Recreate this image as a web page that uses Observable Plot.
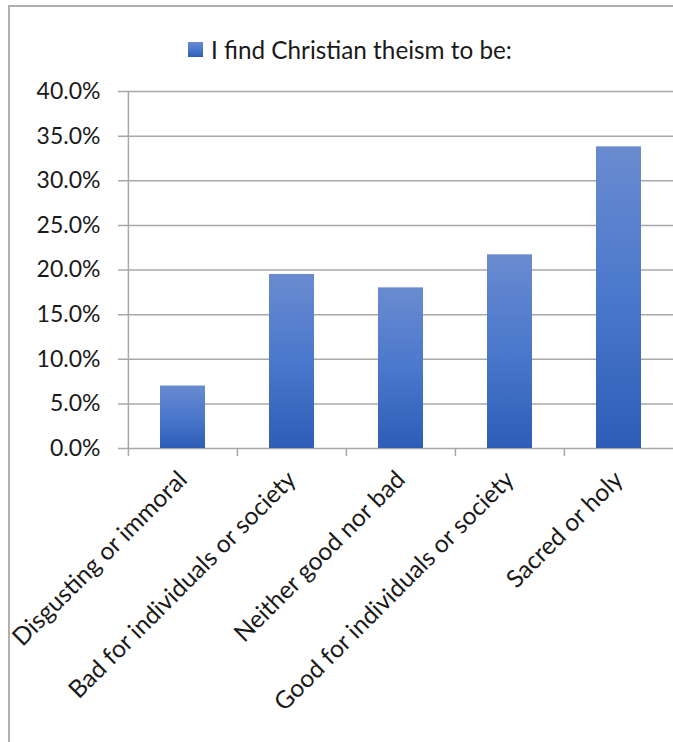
<!DOCTYPE html>
<html>
<head>
<meta charset="utf-8">
<script src="https://cdn.jsdelivr.net/npm/d3@7"></script>
<script src="https://cdn.jsdelivr.net/npm/@observablehq/plot@0.6"></script>
<style>
  html, body { margin: 0; padding: 0; background: #fff; }
  body { width: 673px; height: 742px; position: relative; overflow: hidden; font-family: Lato, "Open Sans", sans-serif; }
  #frame { position: absolute; left: 8px; top: 5px; width: 900px; height: 900px;
           border-left: 2px solid #b0b0b0; border-top: 2px solid #b0b0b0; z-index: 2; pointer-events: none; }
  #legend { position: absolute; left: 188px; top: 35px; display: flex; align-items: center;
            font-size: 24.3px; color: #1a1a1a; white-space: nowrap; }
  #legend .swatch { width: 15px; height: 15px; background: linear-gradient(#6a8bd0, #4a78cc, #2d5db7); margin-right: 8px; }
  #chart { position: absolute; left: 0; top: 70px; }
</style>
</head>
<body>
<div id="frame"></div>
<div id="legend"><span class="swatch"></span><span id="legend-label"></span></div>
<div id="chart"></div>
<script>
// Survey responses: share of respondents choosing each view
const seriesName = "I find Christian theism to be:";
const categories = [
  "Disgusting or immoral",
  "Bad for individuals or society",
  "Neither good nor bad",
  "Good for individuals or society",
  "Sacred or holy"
];
const shares = [0.070, 0.195, 0.180, 0.217, 0.338];
const yTicks = [0, 0.05, 0.10, 0.15, 0.20, 0.25, 0.30, 0.35, 0.40];

document.getElementById("legend-label").textContent = seriesName;

const data = categories.map((category, i) => ({category, share: shares[i]}));

const W = 673, H = 672, mL = 127, mR = 0, mT = 21, mB = 294;
const step = (W - mL - mR) / categories.length;
const gridColor = "#a8a8a8";

// Vertical gradient shared by every bar (light at top, deep blue at bottom)
const barGradient = () => {
  const defs = d3.create("svg:defs");
  const g = defs.append("linearGradient")
    .attr("id", "bar-fill").attr("x1", 0).attr("y1", 0).attr("x2", 0).attr("y2", 1);
  g.append("stop").attr("offset", "0%").attr("stop-color", "#6a8bd0");
  g.append("stop").attr("offset", "50%").attr("stop-color", "#4a78cc");
  g.append("stop").attr("offset", "100%").attr("stop-color", "#2d5db7");
  return defs.node();
};

const chart = Plot.plot({
  width: W,
  height: H,
  marginLeft: mL,
  marginRight: mR,
  marginTop: mT,
  marginBottom: mB,
  style: {fontFamily: "Lato, 'Open Sans', sans-serif", fontSize: "23px", color: "#1a1a1a", background: "transparent", overflow: "visible"},
  x: {domain: categories, paddingInner: 0.59, paddingOuter: 0.295, label: null},
  y: {domain: [0, 0.4], label: null},
  marks: [
    barGradient,
    // horizontal gridlines, extended left to form the axis tick marks
    Plot.ruleY(yTicks, {stroke: gridColor, strokeWidth: 1.5, insetLeft: -9}),
    Plot.barY(data, {x: "category", y: "share", fill: "url(#bar-fill)"}),
    // vertical axis line
    Plot.ruleX([categories[0]], {x: d => d, dx: -step / 2, y1: 0, y2: 0.4, stroke: gridColor, strokeWidth: 1.5}),
    // category divider ticks below the baseline
    Plot.ruleX(categories, {x: d => d, dx: -step / 2, y1: 0, y2: 0, insetBottom: -8, stroke: gridColor, strokeWidth: 1.5}),
    Plot.axisY(yTicks, {tickFormat: d3.format(".1%"), tickSize: 0, tickPadding: 27, fontSize: 23}),
    Plot.axisX({tickSize: 0, tickRotate: -45, tickPadding: 27, fontSize: 24.5})
  ]
});

document.getElementById("chart").appendChild(chart);
</script>
</body>
</html>
